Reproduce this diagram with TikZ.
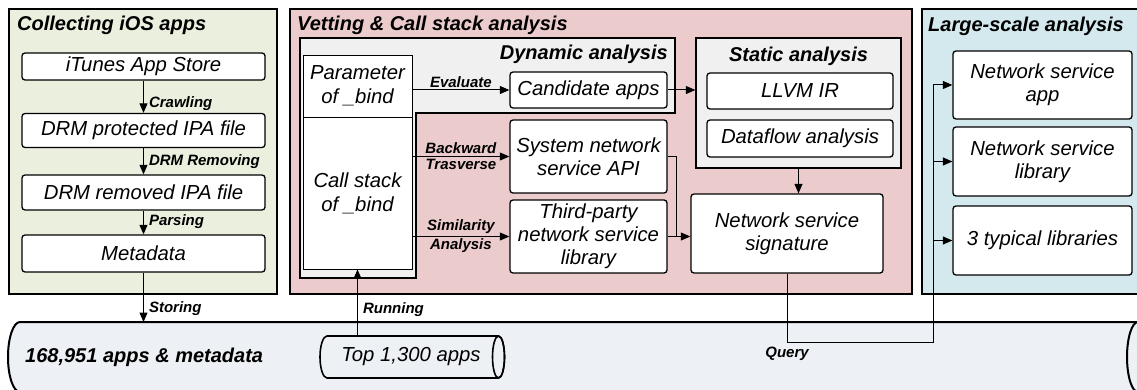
\documentclass[tikz,border=0pt]{standalone}
\usepackage{fontspec}
\setmainfont{Liberation Sans}
\usetikzlibrary{arrows.meta,positioning}
\definecolor{collectgreen}{RGB}{235,239,222}
\definecolor{vetpink}{RGB}{235,203,203}
\definecolor{largeblue}{RGB}{211,233,238}
\definecolor{dynagrey}{RGB}{240,240,240}
\definecolor{dbgrey}{RGB}{237,240,245}

\tikzset{
    panel/.style={draw, rectangle, line width=2.6pt},
    paneltitle/.style={font=\fontsize{20}{24}\selectfont\bfseries\itshape, inner sep=0pt},
    stepbox/.style={draw, rectangle, rounded corners=3pt, fill=white, line width=1.3pt, align=center, inner sep=2pt, font=\fontsize{20.3}{23}\selectfont\itshape},
    bindbox/.style={draw, rectangle, fill=white, line width=0.9pt, minimum width=109pt, align=center, inner sep=2pt, font=\fontsize{20.3}{24}\selectfont\itshape},
    flowlabel/.style={font=\fontsize{15}{17}\selectfont\bfseries\itshape, inner sep=2pt},
    flow/.style={->, line width=1pt},
}

\begin{document}
\begin{tikzpicture}[x=1pt, y=-1pt, >={Triangle[length=9.5pt,width=8pt]}]
    \useasboundingbox (0,0) rectangle (1137,390);
    % Panels
    \node[panel, fill=collectgreen, minimum width=268pt, minimum height=285pt] (collect) at (143,151.5) {};
    \node[panel, fill=vetpink, minimum width=622pt, minimum height=285pt] (vetting) at (601,151.5) {};
    \node[panel, fill=largeblue, minimum width=240pt, minimum height=285pt] (large) at (1042,151.5) {};
    \node[paneltitle, anchor=base west] (collecttitle) at (17,31) {Collecting iOS apps};
    \node[paneltitle, anchor=base west] (vettitle) at (297,31) {Vetting \& Call stack analysis};
    \node[paneltitle, anchor=base west] (largetitle) at (928,32) {Large-scale analysis};

    % App storage (horizontal cylinders)
    \draw[line width=2pt, fill=dbgrey] (1138,322) -- (20,322) arc[start angle=90, end angle=270, x radius=12pt, y radius=35pt]
        -- (1138,392) arc[start angle=-90, end angle=90, x radius=11pt, y radius=35pt] -- cycle;
    \draw[line width=2pt] (1138,357) ellipse[x radius=11pt, y radius=35pt];
    \coordinate (dbtop) at (20,322);
    \node[paneltitle, anchor=west] (dblabel) at (25,357) {168,951 apps \& metadata};
    \draw[line width=1.6pt, fill=dbgrey] (498.5,336) -- (327,336) arc[start angle=90, end angle=270, x radius=7pt, y radius=21pt]
        -- (498.5,378) arc[start angle=-90, end angle=90, x radius=6pt, y radius=21pt] -- cycle;
    \draw[line width=1.6pt] (498.5,357) ellipse[x radius=6pt, y radius=21pt];
    \node[minimum width=170pt, minimum height=42pt, inner sep=0pt, font=\fontsize{20.3}{24}\selectfont\itshape] (top1300) at (411,357) {Top 1,300 apps};

    % Collecting steps
    \node[stepbox, minimum width=243pt, minimum height=27pt] (itunes) at (143.5,66.5) {iTunes App Store};
    \node[stepbox, minimum width=243pt, minimum height=34pt] (drmprot) at (143.5,130.5) {DRM protected IPA file};
    \node[stepbox, minimum width=243pt, minimum height=35pt] (drmrem) at (143.5,192.5) {DRM removed IPA file};
    \node[stepbox, minimum width=243pt, minimum height=37pt] (metadata) at (143.5,253.5) {Metadata};
    \draw[flow] (itunes) -- node[flowlabel, right=3pt, pos=0.7] {Crawling} (drmprot);
    \draw[flow] (drmprot) -- node[flowlabel, right=3pt, pos=0.52] {DRM Removing} (drmrem);
    \draw[flow] (drmrem) -- node[flowlabel, right=3pt, pos=0.48] {Parsing} (metadata);
    \draw[flow] (metadata.south) -- node[flowlabel, right=3pt, pos=0.72] {Storing} (metadata.south |- dbtop);

    % Dynamic analysis
    \draw[line width=1.3pt, fill=dynagrey] (300,38) -- (675,38) -- (675,113) -- (416,113) -- (416,278) -- (300,278) -- cycle;
    \node[paneltitle, anchor=base east] (dyntitle) at (668,60) {Dynamic analysis};
    \node[bindbox, minimum height=62pt] (param) at (357.5,86) {Parameter\\of \_bind};
    \node[bindbox, minimum height=152pt] (callstack) at (357.5,193) {Call stack\\of \_bind};
    \node[stepbox, minimum width=157pt, minimum height=36pt] (candidate) at (588.5,90) {Candidate apps};
    \node[stepbox, minimum width=157pt, minimum height=73pt] (sysapi) at (588.5,156.5) {System network\\service API};
    \node[stepbox, minimum width=157pt, minimum height=73pt] (thirdparty) at (588.5,236.5) {Third-party\\network service\\library};
    \draw[flow] (candidate.west -| param.east) -- node[flowlabel, above] {Evaluate} (candidate.west);
    \draw[flow] (sysapi.west -| callstack.east) -- node[flowlabel, above] {Backward} node[flowlabel, below] {Trasverse} (sysapi.west);
    \draw[flow] (thirdparty.west -| callstack.east) -- node[flowlabel, above] {Similarity} node[flowlabel, below] {Analysis} (thirdparty.west);
    \draw[flow] (callstack.south |- top1300.north) -- node[flowlabel, right=3pt, pos=0.4] {Running} (callstack.south);

    % Static analysis
    \node[draw, rectangle, fill=dynagrey, line width=1.3pt, minimum width=205pt, minimum height=130pt] (static) at (798.5,103) {};
    \node[paneltitle, anchor=base] (stattitle) at (798.5,62) {Static analysis};
    \node[stepbox, minimum width=186pt, minimum height=36pt] (llvm) at (800,91) {LLVM IR};
    \node[stepbox, minimum width=186pt, minimum height=37pt] (dataflow) at (800,138.5) {Dataflow analysis};
    \node[stepbox, minimum width=192pt, minimum height=79pt] (signature) at (787,233.5) {Network service\\signature};
    \draw[flow] (candidate.east) -- (candidate.east -| static.west);
    \draw[flow] (static.south) -- (static.south |- signature.north);
    \coordinate (merge) at (676,236.5);
    \draw[line width=1pt] (sysapi.east) -| (merge);
    \draw[flow] (thirdparty.east) -- (thirdparty.east -| signature.west);

    % Large-scale analysis
    \node[stepbox, minimum width=179pt, minimum height=68pt] (nsapp) at (1042.5,85) {Network service\\app};
    \node[stepbox, minimum width=179pt, minimum height=69pt] (nslib) at (1042.5,161.5) {Network service\\library};
    \node[stepbox, minimum width=179pt, minimum height=69pt] (typical) at (1042.5,240.5) {3 typical libraries};

    % Query
    \coordinate (qbus) at (933,342);
    \draw[line width=1pt] (signature.south) |- node[flowlabel, below=3pt] {Query} (qbus) -- (qbus |- nsapp.west);
    \foreach \target in {nsapp, nslib, typical}
        \draw[flow] (qbus |- \target.west) -- (\target.west);
\end{tikzpicture}
\end{document}
